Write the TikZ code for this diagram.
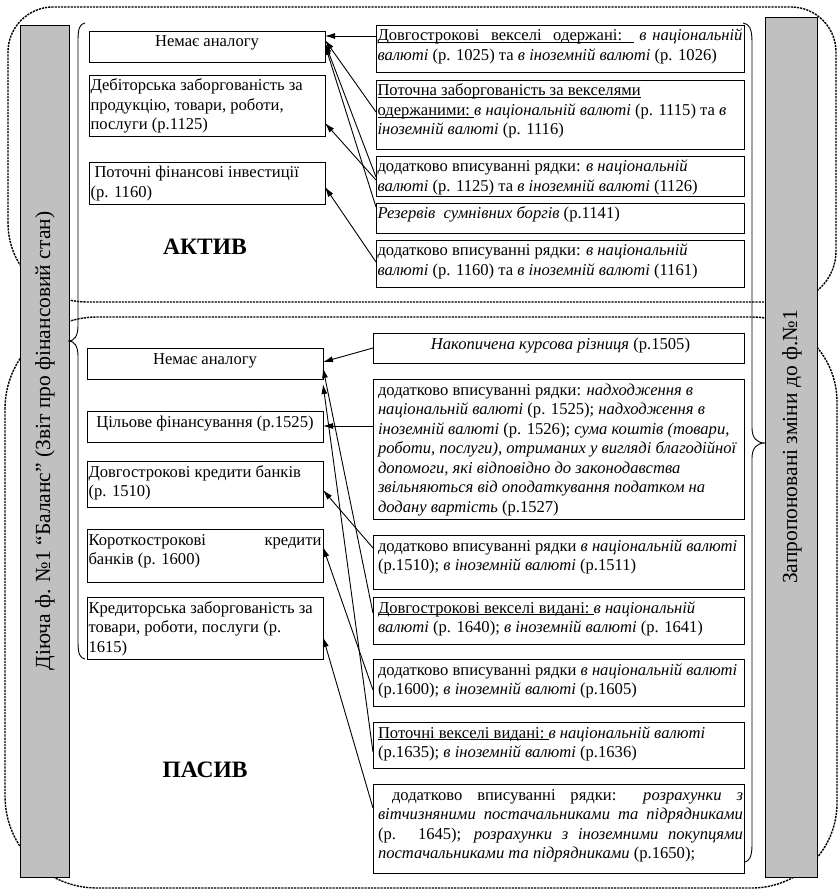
\documentclass[tikz,border=0pt]{standalone}
\usepackage{fontspec}
\setmainfont{Liberation Serif}
\usetikzlibrary{arrows.meta}
\definecolor{barg}{RGB}{192,192,192}
\newcommand\bxfont{\fontsize{16.6}{19.5}\selectfont}
\newcommand\barfont{\fontsize{21.5}{24}\selectfont}
\newcommand\jl[1]{\hbox to\linewidth{#1}}
\newcommand\ul[1]{\setbox0\hbox{#1}\rlap{\rule[-2.2pt]{\wd0}{0.8pt}}\box0}
\newcommand\uls{\leaders\hrule height -1.4pt depth 2.2pt\hskip 0.25em plus 0.6em minus 0.1em}
\newcommand\bx[3]{\parbox[c][#2pt][t]{#1pt}{\bxfont\rule{0pt}{16pt}#3}}
\begin{document}
\begin{tikzpicture}[x=1pt,y=-1pt,
  box/.style={draw, line width=0.9pt, anchor=north west, inner xsep=1.5pt, inner ysep=0pt, outer sep=0pt},
  pbox/.style={box, inner xsep=0pt},
  arr/.style={line width=0.9pt, -{Latex[length=10pt,width=6pt]}},
  dsh/.style={line width=1.4pt, dash pattern=on 2.2pt off 1pt},
  bar/.style={draw, line width=0.9pt, fill=barg},
  brace/.style={line width=0.9pt},
  title/.style={font=\fontsize{23.5}{26}\selectfont\bfseries, inner sep=0pt}
]
\useasboundingbox[fill=white] (0,0) rectangle (839,890);

% dashed outlines
\draw[dsh] (8,223) -- (8,52) .. controls (8,27.2) and (28.2,7) .. (53,7)
  -- (791,7) .. controls (815.8,7) and (836,27.2) .. (836,52)
  -- (836,251) .. controls (836,279.2) and (813.2,302) .. (785,302)
  -- (87,302) .. controls (43.4,302) and (8,266.6) .. (8,223) -- cycle;
\draw[dsh] (5,409) .. controls (5,358.2) and (46.2,317) .. (97,317)
  -- (752,317) .. controls (798.9,317) and (837,355.1) .. (837,402)
  -- (837,803) .. controls (837,849.9) and (798.9,888) .. (752,888)
  -- (97,888) .. controls (46.2,888) and (5,846.8) .. (5,796) -- cycle;

% gray bars
\draw[bar] (20,25) rectangle (69,877);
\draw[bar] (765,17) rectangle (817,877);
\node[rotate=90, font=\barfont, inner sep=0pt] (LT) at (45,441) {Діюча ф. №1 “Баланс” (Звіт про фінансовий стан)};
\node[rotate=90, font=\barfont, inner sep=0pt] (RT) at (792,447) {Запропоновані зміни до ф.№1};

% braces
\draw[brace] (85,23) .. controls (80,24) and (78,28) .. (78,40) -- (78,326)
  .. controls (78,336) and (74,341) .. (69,341)
  .. controls (74,341) and (78,346) .. (78,356) -- (78,642)
  .. controls (78,654) and (80,658) .. (85,659);
\draw[brace] (743,23) .. controls (749,24) and (752,28) .. (752,42) -- (752,428)
  .. controls (752,438) and (757,443) .. (765,443)
  .. controls (757,443) and (752,448) .. (752,458) -- (752,845)
  .. controls (752,857) and (749,861) .. (745,862);

% titles
\node[title] (AKT) at (205,246.5) {АКТИВ};
\node[title] (PAS) at (205,769.5) {ПАСИВ};

% top left boxes
\node[box] (L1) at (89,31) {\bx{233}{31}{\centering Немає аналогу}};
\node[box] (L2) at (89,75) {\bx{233}{61}{\mbox{Дебіторська заборгованість за}\\ \mbox{продукцію, товари, роботи,}\\ \mbox{послуги (р.1125)}}};
\node[box] (L3) at (89,162) {\bx{233}{42}{\mbox{\hspace*{4pt}Поточні фінансові інвестиції}\\ \mbox{(р. 1160)}}};

% top right boxes
\node[box] (R1) at (376,25) {\bx{365}{47}{\jl{\ul{Довгострокові}\uls\ul{векселі}\uls\ul{одержані:}\uls\ \textit{в національній}}\\ \mbox{\textit{валюті} (р. 1025) та \textit{в іноземній валюті} (р. 1026)}}};
\node[box] (R2) at (376,80) {\bx{365}{69}{\mbox{\ul{Поточна}\uls\ul{заборгованість}\uls\ul{за}\uls\ul{векселями}}\\ \mbox{\ul{одержаними:}\uls\textit{в національній валюті} (р. 1115) та \textit{в}}\\ \mbox{\textit{іноземній валюті} (р. 1116)}}};
\node[box] (R3) at (376,156) {\bx{365}{40}{\mbox{додатково вписуванні рядки: \textit{в національній}}\\ \mbox{\textit{валюті} (р. 1125) та \textit{в іноземній валюті} (1126)}}};
\node[box] (R4) at (376,203) {\bx{365}{30}{\mbox{\textit{Резервів\ \ сумнівних боргів} (р.1141)}}};
\node[box] (R5) at (376,240) {\bx{365}{47}{\mbox{додатково вписуванні рядки: \textit{в національній}}\\ \mbox{\textit{валюті} (р. 1160) та \textit{в іноземній валюті} (1161)}}};

% bottom left boxes
\node[box] (B1) at (87,348) {\bx{233}{31}{\centering Немає аналогу}};
\node[box] (B2) at (87,411) {\bx{233}{31}{\centering Цільове фінансування (р.1525)}};
\node[box] (B3) at (87,461) {\bx{233}{46}{\mbox{Довгострокові кредити банків}\\ \mbox{(р. 1510)}}};
\node[box] (B4) at (87,529) {\bx{233}{53}{\jl{Короткострокові кредити}\\ \mbox{банків (р. 1600)}}};
\node[box] (B5) at (87,597) {\bx{233}{62}{\mbox{Кредиторська заборгованість за}\\ \mbox{товари, роботи, послуги (р.}\\ \mbox{1615)}}};

% bottom right boxes
\node[pbox] (P1) at (373,333) {\kern5pt\bx{365}{30}{\centering\textit{Накопичена курсова різниця} (р.1505)}\kern1pt};
\node[pbox] (P2) at (373,379) {\kern5pt\bx{365}{140}{\mbox{додатково вписуванні рядки: \textit{надходження в}}\\ \mbox{\textit{національній валюті} (р. 1525); \textit{надходження в}}\\ \mbox{\textit{іноземній валюті} (р. 1526); \textit{сума коштів (товари,}}\\ \mbox{\textit{роботи, послуги), отриманих у вигляді благодійної}}\\ \mbox{\textit{допомоги, які відповідно до законодавства}}\\ \mbox{\textit{звільняються від оподаткування податком на}}\\ \mbox{\textit{додану вартість} (р.1527)}}\kern1pt};
\node[pbox] (P3) at (373,535) {\kern5pt\bx{365}{54}{\mbox{додатково вписуванні рядки \textit{в національній валюті}}\\ \mbox{(р.1510); \textit{в іноземній валюті} (р.1511)}}\kern1pt};
\node[pbox] (P4) at (373,597) {\kern5pt\bx{365}{47}{\mbox{\ul{Довгострокові}\uls\ul{векселі}\uls\ul{видані:}\uls\textit{в національній}}\\ \mbox{\textit{валюті} (р. 1640); \textit{в іноземній валюті} (р. 1641)}}\kern1pt};
\node[pbox] (P5) at (373,659) {\kern5pt\bx{365}{47}{\mbox{додатково вписуванні рядки \textit{в національній валюті}}\\ \mbox{(р.1600); \textit{в іноземній валюті} (р.1605)}}\kern1pt};
\node[pbox] (P6) at (373,722) {\kern5pt\bx{365}{46}{\mbox{\ul{Поточні}\uls\ul{векселі}\uls\ul{видані:}\uls\textit{в національній валюті}}\\ \mbox{(р.1635); \textit{в іноземній валюті} (р.1636)}}\kern1pt};
\node[pbox] (P7) at (373,784) {\kern5pt\bx{365}{89}{\jl{\hspace*{14pt}додатково вписуванні рядки: \textit{розрахунки з}}\\ \jl{\textit{вітчизняними постачальниками та підрядниками}}\\ \jl{(р. 1645); \textit{розрахунки з іноземними покупцями}}\\ \mbox{\textit{постачальниками та підрядниками} (р.1650);}}\kern1pt};

% top connectors
\draw[arr] ([yshift=-11pt]R1.north west) -- ([yshift=-5pt]L1.north east);
\draw[arr] ([yshift=-32pt]R2.north west) -- ([yshift=-9pt]L1.north east);
\draw[arr] ([yshift=-21pt]R3.north west) -- ([yshift=-12pt]L1.north east);
\draw[arr] ([yshift=-24pt]R3.north west) -- ([yshift=-48pt]L2.north east);
\draw[arr] ([yshift=-4pt]R4.north west) -- ([yshift=-14pt]L1.north east);
\draw[arr] ([yshift=-22pt]R5.north west) -- ([yshift=-25pt]L3.north east);

% bottom connectors
\draw[arr] ([yshift=-15pt]P1.north west) -- ([yshift=-14pt]B1.north east);
\draw[arr] ([yshift=-47pt]P2.north west) -- ([yshift=-15pt]B2.north east);
\draw[arr] ([yshift=-13pt]P3.north west) -- ([yshift=-29pt]B3.north east);
\draw[arr] ([yshift=-16pt]P4.north west) -- ([yshift=-20pt]B1.north east);
\draw[arr] ([yshift=-31pt]P5.north west) -- ([yshift=-18pt]B4.north east);
\draw[arr] ([yshift=-30pt]P6.north west) -- ([yshift=-36pt]B1.north east);
\draw[arr] ([yshift=-24pt]P7.north west) -- ([yshift=-40pt]B5.north east);
\end{tikzpicture}
\end{document}
